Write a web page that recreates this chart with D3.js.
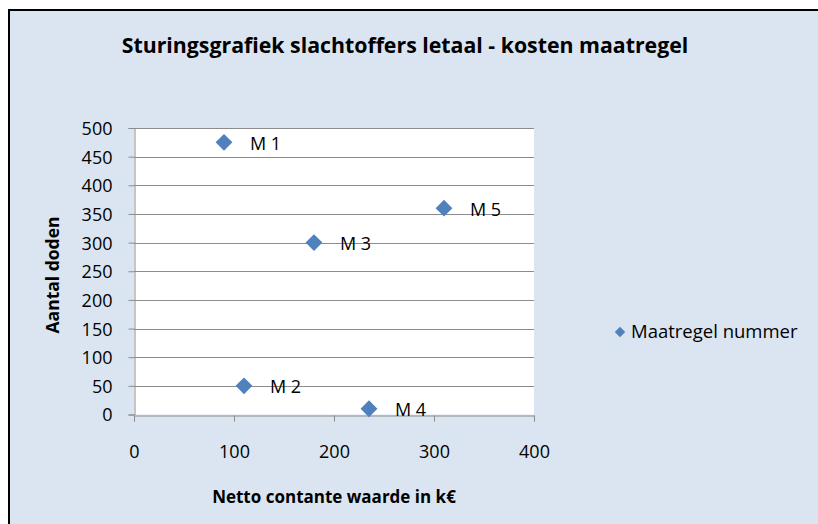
<!DOCTYPE html>
<html>
<head>
<meta charset="utf-8">
<script src="https://cdn.jsdelivr.net/npm/d3@7"></script>
<style>
  html, body { margin: 0; padding: 0; overflow: hidden; background: #dbe5f1; }
  svg { display: block; overflow: hidden; font-family: "Open Sans", "Noto Sans", sans-serif; }
</style>
</head>
<body>
<svg id="chart"></svg>
<script>
// Data
const labels = ["M 1", "M 2", "M 3", "M 4", "M 5"];
const kosten = [90, 110, 180, 235, 310];
const doden = [475, 50, 300, 10, 360];
const xTicks = [0, 100, 200, 300, 400];
const yTicks = [0, 50, 100, 150, 200, 250, 300, 350, 400, 450, 500];

let width = 818;
let height = 524;

let margin = { top: 128, right: 284, bottom: 110, left: 134 };

let svg = d3.select("#chart")
    .attr("width", width)
    .attr("height", height);

// White page around the chart area
svg.append("rect")
    .attr("width", width).attr("height", height)
    .attr("fill", "#ffffff");

// Chart background: only left and top border are visible
svg.append("rect")
    .attr("x", 10).attr("y", 11)
    .attr("width", width - 10).attr("height", height - 11)
    .attr("fill", "#dbe5f1");

svg.append("path")
    .attr("d", `M9,${height}V10H${width}`)
    .attr("fill", "none")
    .attr("stroke", "#000")
    .attr("stroke-width", 2);

let xScale = d3.scaleLinear()
    .domain([0, 400])
    .range([margin.left, width - margin.right]);

let yScale = d3.scaleLinear()
    .domain([0, 500])
    .range([height - margin.bottom + 0.5, margin.top]);

// Plot area
svg.append("rect")
    .attr("x", xScale(0)).attr("y", yScale(500))
    .attr("width", xScale(400) - xScale(0))
    .attr("height", yScale(0) - yScale(500))
    .attr("fill", "#ffffff");

// Gridlines
svg.append("g")
    .selectAll("line")
    .data(yTicks.filter(d => d > 0))
    .enter().append("line")
    .attr("x1", xScale(0)).attr("x2", xScale(400))
    .attr("y1", d => Math.round(yScale(d)) + 0.5)
    .attr("y2", d => Math.round(yScale(d)) + 0.5)
    .attr("stroke", "#8c8c8c")
    .attr("stroke-width", 1);

// Axes
let xAxis = svg.append("g")
    .attr("transform", `translate(0, ${Math.round(yScale(0)) + 0.5})`)
    .call(d3.axisBottom(xScale).tickValues(xTicks).tickSize(6).tickPadding(24));

let yAxis = svg.append("g")
    .attr("transform", `translate(${xScale(0) + 0.5}, 0)`)
    .call(d3.axisLeft(yScale).tickValues(yTicks).tickSize(6).tickPadding(16));

[xAxis, yAxis].forEach(a => {
    a.select(".domain").attr("stroke", "#8c8c8c");
    a.selectAll(".tick line").attr("stroke", "#8c8c8c");
    a.selectAll(".tick text")
        .attr("fill", "#000")
        .style("font-size", "18px")
        .style("font-family", "'Open Sans', sans-serif");
});
yAxis.selectAll(".tick text").attr("dy", "0.36em");

// Points
let diamond = d3.symbol().type(d3.symbolDiamond2).size(180);

svg.selectAll(".pt")
    .data(labels)
    .enter().append("path")
    .attr("class", "pt")
    .attr("d", diamond)
    .attr("transform", (d, i) => `translate(${xScale(kosten[i])}, ${yScale(doden[i])})`)
    .attr("fill", "#4f81bd");

svg.selectAll(".lbl")
    .data(labels)
    .enter().append("text")
    .attr("class", "lbl")
    .attr("x", (d, i) => xScale(kosten[i]) + 26)
    .attr("y", (d, i) => yScale(doden[i]) + 7.5)
    .style("font-size", "18px")
    .text(d => d);

// Titles
svg.append("text")
    .attr("x", 405)
    .attr("y", 53)
    .attr("text-anchor", "middle")
    .style("font-size", "21.3px")
    .style("font-weight", "bold")
    .text("Sturingsgrafiek slachtoffers letaal - kosten maatregel");

svg.append("text")
    .attr("x", 334)
    .attr("y", 503)
    .attr("text-anchor", "middle")
    .style("font-size", "17px")
    .style("font-weight", "bold")
    .text("Netto contante waarde in k€");

svg.append("text")
    .attr("transform", "rotate(-90)")
    .attr("x", -275)
    .attr("y", 59)
    .attr("text-anchor", "middle")
    .style("font-size", "17.5px")
    .style("font-weight", "bold")
    .text("Aantal doden");

// Legend
svg.append("path")
    .attr("d", d3.symbol().type(d3.symbolDiamond2).size(70))
    .attr("transform", "translate(620, 332)")
    .attr("fill", "#4f81bd");

svg.append("text")
    .attr("x", 631)
    .attr("y", 338)
    .style("font-size", "18.5px")
    .text("Maatregel nummer");
</script>
</body>
</html>
